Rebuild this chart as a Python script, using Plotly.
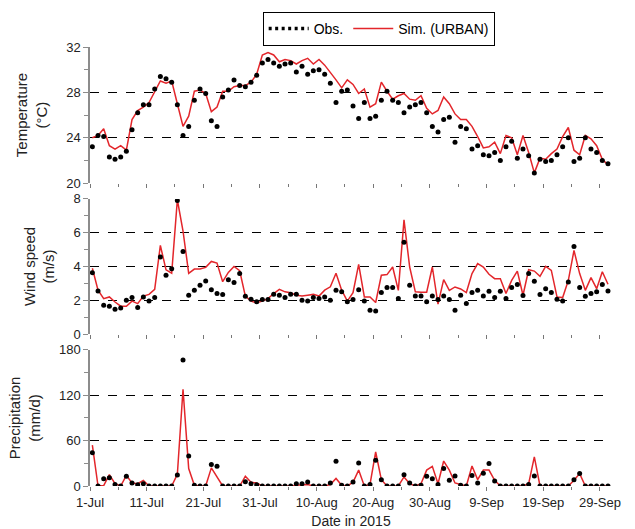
import pandas as pd
import plotly.graph_objects as go

dates = pd.date_range("2015-07-01", periods=92, freq="D") + pd.Timedelta(hours=10)

temp_sim = [24.0,24.2,24.8,23.3,23.0,23.3,22.9,25.6,26.4,26.7,
            27.1,28.0,29.0,28.8,29.0,27.0,25.0,25.9,28.1,28.2,
            27.9,26.3,26.7,28.1,28.1,28.5,28.6,28.6,28.9,29.6,
            31.3,31.5,31.3,30.7,30.9,30.8,30.5,30.8,31.0,30.5,
            30.9,30.4,29.8,29.1,28.4,29.1,28.7,27.9,28.3,26.7,
            27.0,28.9,28.1,27.4,27.7,27.9,27.4,27.3,27.7,26.6,
            26.1,26.4,27.6,27.0,26.1,25.6,25.6,25.0,24.1,23.1,
            23.2,23.6,22.6,24.2,24.0,22.5,24.2,22.7,20.9,22.2,
            22.1,22.6,23.0,24.1,24.9,22.9,22.5,24.2,23.9,23.3,
            22.1,21.6]
temp_obs = [23.2,24.2,24.1,22.3,22.1,22.3,22.8,24.7,26.2,26.9,
            26.9,28.3,29.4,29.2,28.9,26.9,24.2,25.0,27.3,28.3,
            27.9,25.5,25.0,27.6,28.2,29.1,28.6,28.5,28.9,29.5,
            30.6,30.9,30.6,30.3,30.5,30.6,29.8,30.3,29.6,29.9,
            30.0,29.6,28.8,27.1,28.1,28.2,26.8,25.7,27.1,25.7,
            25.9,27.3,28.1,27.3,27.1,26.2,26.7,26.9,27.1,26.2,
            25.0,24.5,25.6,25.8,23.6,25.0,24.8,23.0,23.3,22.5,
            22.4,22.7,22.0,23.2,23.7,22.2,23.0,22.4,20.9,22.1,
            21.9,22.0,22.5,23.2,24.0,21.9,22.2,24.0,23.0,22.7,
            22.0,21.7]
wind_sim = [3.9,2.6,2.1,2.2,1.9,1.65,1.65,1.95,1.8,2.25,
            2.35,2.65,5.25,3.8,3.6,7.95,6.1,3.6,3.85,3.85,
            3.95,4.3,4.2,3.1,3.65,4.0,3.75,2.25,1.95,1.85,
            1.95,2.1,2.4,2.65,2.5,2.45,2.3,2.25,2.3,2.35,
            2.25,2.6,2.8,3.6,2.6,1.95,2.45,4.13,2.2,2.2,
            1.87,3.48,3.52,3.97,2.59,6.76,3.97,2.5,2.48,2.48,
            3.97,1.77,3.22,2.59,2.79,2.67,2.46,3.58,4.17,3.97,
            3.54,3.28,3.28,2.4,3.18,3.73,2.3,3.81,3.73,3.42,
            4.01,3.77,2.2,2.16,3.18,4.95,3.58,2.59,3.34,2.69,
            3.69,2.95]
wind_obs = [3.63,2.55,1.71,1.65,1.47,1.55,2.0,2.16,1.57,2.2,
            1.96,2.16,4.56,3.48,3.87,7.9,4.89,2.3,2.59,2.89,
            3.14,2.63,2.4,2.34,3.22,3.05,3.58,2.24,2.06,1.91,
            2.04,2.04,2.36,2.3,2.16,2.36,2.36,2.0,1.96,2.16,
            2.1,2.2,2.0,2.59,2.5,1.91,2.05,2.63,1.96,1.41,
            1.36,2.46,2.75,2.75,2.1,5.44,2.89,2.26,2.26,1.91,
            2.26,2.04,2.26,2.04,1.41,2.3,1.81,2.46,2.59,2.26,
            2.53,2.16,2.53,2.1,2.75,2.93,2.28,3.58,3.12,2.34,
            2.69,2.46,2.06,1.96,3.08,5.19,2.75,2.24,2.4,2.5,
            2.93,2.55]
prec_sim = [54,0,0.5,15,3,0,14,4,3,7.5,
            0,0,0,0,0,15.5,128,23,1,0,
            0,24,12,0,0,0,0,13,5,4,
            0,0,0,0,0,0,1,1,2,0,
            0,0,2,10,1,0,5,21,0,2,
            45,8.4,0,0,0,12,3,0,3,21,
            26,3,33,21,4,2,0,26.5,8.4,21,
            21,7.5,0,0,0,0,0,3,38.5,0,
            0,0,0,0,0,7.5,16.4,0,0,0,
            0,0]
prec_obs = [44,0,9.7,11,2,0,12.8,4,1.8,3,
            0,0,0,0,0,14.6,166.7,39.8,1,0,
            0,28.3,26,0,0,0,0,5.7,3,1.8,
            0,0,0,0,0,0,3,3,5.3,0,
            0,0,4,32.7,1,0,5.3,30.5,0,2,
            34,8.4,0,0,0,15,4,0,1,12.8,
            9.7,2,23,7.5,13.3,1,0,14,4,17,
            29.6,6.6,0,0,0,0,0,2,13.3,0,
            0,0,0,0,0,8.4,16.4,0,0,0,
            0,0]

panels = [
    ("y", temp_obs, temp_sim, [20, 32], 4, 2, "Temperature<br>(°C)", [0.690, 1.0]),
    ("y2", wind_obs, wind_sim, [0, 8], 2, 1, "Wind speed<br>(m/s)", [0.346, 0.654]),
    ("y3", prec_obs, prec_sim, [0, 180], 60, 30, "Precipitation<br>(mm/d)", [0.0, 0.310]),
]
xnames = ["x", "x2", "x3"]

RED = "#E3262B"
fig = go.Figure()
for i, (yname, obs, sim, rng, dt, mdt, title, dom) in enumerate(panels):
    fig.add_trace(go.Scatter(x=dates, y=sim, mode="lines", xaxis=xnames[i], yaxis=yname,
                             line=dict(color=RED, width=1.5), showlegend=False))
    fig.add_trace(go.Scatter(x=dates, y=obs, mode="markers", xaxis=xnames[i], yaxis=yname,
                             marker=dict(color="black", size=5), showlegend=False))

# legend entries
fig.add_trace(go.Scatter(x=[None], y=[None], mode="lines", name="Obs.",
                         line=dict(color="black", width=3.5, dash="3px,3.5px")))
fig.add_trace(go.Scatter(x=[None], y=[None], mode="lines", name="Sim. (URBAN)",
                         line=dict(color=RED, width=1.5)))

font = "Liberation Sans, Arial, sans-serif"
layout = dict(
    width=635, height=529,
    margin=dict(l=90, r=23, t=47, b=43, autoexpand=False),
    paper_bgcolor="white", plot_bgcolor="white",
    font=dict(family=font, size=12, color="#222"),
    legend=dict(orientation="h", x=0.553, xanchor="center", y=1.080, yanchor="top",
                bordercolor="black", borderwidth=1, font=dict(size=14, color="black"),
                itemwidth=40, tracegroupgap=0),
)
xr = ["2015-07-01", "2015-10-01 03:00"]
for i, (yname, obs, sim, rng, dt, mdt, title, dom) in enumerate(panels):
    xkey = "xaxis" if i == 0 else f"xaxis{i+1}"
    ykey = "yaxis" if i == 0 else f"yaxis{i+1}"
    layout[xkey] = dict(
        type="date", range=xr, anchor=yname, domain=[0, 1], automargin=False,
        tick0="2015-07-01", dtick=10 * 86400000, tickformat="%-d-%b",
        showticklabels=(i == 2), showgrid=False, showline=False, zeroline=False,
        ticks="outside", ticklen=4, tickcolor="#777", tickfont=dict(size=13, color="#222"),
        minor=dict(dtick=5 * 86400000, tick0="2015-07-01", ticks="outside", ticklen=3,
                   tickcolor="#777", showgrid=False),
    )
    if i != 0:
        layout[xkey]["matches"] = "x"
    layout[ykey] = dict(
        range=rng, domain=dom, anchor=xnames[i], dtick=dt, tick0=0, automargin=False,
        showgrid=True, gridcolor="black", griddash="dash", gridwidth=1.3,
        showline=True, linecolor="#8c8c8c", linewidth=1.5, zeroline=False,
        ticks="outside", ticklen=5, tickcolor="#8c8c8c",
        minor=dict(dtick=mdt, tick0=0, ticks="outside", ticklen=4, tickcolor="#8c8c8c", showgrid=False),
        tickfont=dict(size=13, color="#222"),
        title=dict(text=title, font=dict(size=15, color="#222"), standoff=15),
    )
layout["xaxis3"]["title"] = dict(text="Date in 2015", font=dict(size=14, color="#222"), standoff=10)
fig.update_layout(**layout)
fig.write_html("out.html")
